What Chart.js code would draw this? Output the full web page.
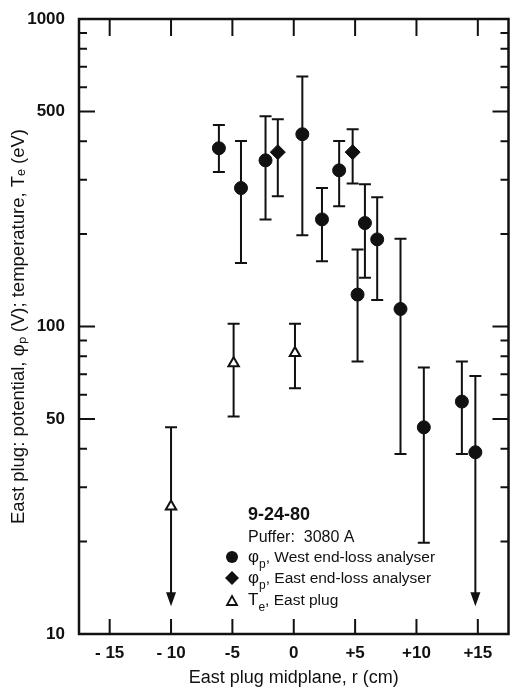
<!DOCTYPE html>
<html>
<head>
<meta charset="utf-8">
<script src="https://cdn.jsdelivr.net/npm/chart.js@4"></script>
<style>
  body { margin: 0; background: #fff; }
  #wrap { width: 517px; height: 689px; }
</style>
</head>
<body>
<div id="wrap"><canvas id="chart" width="517" height="689"></canvas></div>
<script>
// radial position r (cm) and values
const westR = [-6.1, -4.3, -2.3, 0.7, 2.3, 3.7, 5.2, 5.8, 6.8, 8.7, 10.6, 13.7, 14.8];
const westPhi = [380, 282, 347, 422, 223, 322, 127, 217, 192, 114, 47, 57, 39];
const westHi = [452, 401, 483, 650, 282, 401, 178, 290, 263, 193, 73.5, 77, 69];
const westLo = [318, 161, 223, 198, 163, 246, 77, 144, 122, 38.5, 19.8, 38.5, 12.3];
const westArrow = [false, false, false, false, false, false, false, false, false, false, false, false, true];

const eastR = [-1.3, 4.8];
const eastPhi = [369, 369];
const eastHi = [472, 438];
const eastLo = [265, 292];
const eastArrow = [false, false];

const teR = [-10, -4.9, 0.1];
const teVal = [26, 76, 82];
const teHi = [47, 102, 102];
const teLo = [12.3, 51, 63];
const teArrow = [true, false, false];

const xTicks = [-15, -10, -5, 0, 5, 10, 15];
const yLabelled = [10, 50, 100, 500, 1000];
const yTicks = [10, 20, 30, 40, 50, 60, 70, 80, 90, 100, 200, 300, 400, 500, 600, 700, 800, 900, 1000];

const ink = '#111';
const fontFam = '"Liberation Sans", Arial, sans-serif';

function pts(xs, ys) {
    return xs.map((x, i) => ({ x: x, y: ys[i] }));
}

const errorSets = [
    { xs: westR, hi: westHi, lo: westLo, arrow: westArrow },
    { xs: eastR, hi: eastHi, lo: eastLo, arrow: eastArrow },
    { xs: teR, hi: teHi, lo: teLo, arrow: teArrow }
];

function drawArrowHead(ctx, x, y) {
    ctx.beginPath();
    ctx.moveTo(x, y);
    ctx.lineTo(x - 5, y - 14);
    ctx.lineTo(x + 5, y - 14);
    ctx.closePath();
    ctx.fill();
}

const framePlugin = {
    id: 'frame',
    beforeDatasetsDraw(chart) {
        const ctx = chart.ctx;
        const xs = chart.scales.x, ys = chart.scales.y;
        ctx.save();
        ctx.strokeStyle = ink;
        ctx.fillStyle = ink;
        ctx.lineWidth = 2;
        errorSets.forEach(set => {
            set.xs.forEach((r, i) => {
                const px = xs.getPixelForValue(r);
                const top = ys.getPixelForValue(set.hi[i]);
                const bot = ys.getPixelForValue(set.lo[i]);
                ctx.beginPath();
                ctx.moveTo(px, top);
                ctx.lineTo(px, set.arrow[i] ? bot - 10 : bot);
                ctx.moveTo(px - 6, top);
                ctx.lineTo(px + 6, top);
                if (!set.arrow[i]) {
                    ctx.moveTo(px - 6, bot);
                    ctx.lineTo(px + 6, bot);
                }
                ctx.stroke();
                if (set.arrow[i]) drawArrowHead(ctx, px, bot);
            });
        });
        ctx.restore();
    },
    afterDraw(chart) {
        const ctx = chart.ctx;
        const a = chart.chartArea;
        const xs = chart.scales.x, ys = chart.scales.y;
        ctx.save();
        ctx.strokeStyle = ink;
        ctx.lineWidth = 2.5;
        ctx.strokeRect(a.left, a.top, a.right - a.left, a.bottom - a.top);

        // inward tick marks on all four sides
        ctx.lineWidth = 2;
        ctx.beginPath();
        yTicks.forEach(v => {
            const py = ys.getPixelForValue(v);
            const len = yLabelled.includes(v) ? 16 : 8;
            ctx.moveTo(a.left, py); ctx.lineTo(a.left + len, py);
            ctx.moveTo(a.right, py); ctx.lineTo(a.right - len, py);
        });
        xTicks.forEach(v => {
            const px = xs.getPixelForValue(v);
            ctx.moveTo(px, a.bottom); ctx.lineTo(px, a.bottom - 15);
            ctx.moveTo(px, a.top); ctx.lineTo(px, a.top + 17);
        });
        ctx.stroke();

        // legend block inside the plot
        const lx = a.left + 153, tx = a.left + 169;
        ctx.fillStyle = ink;
        ctx.textBaseline = 'alphabetic';
        ctx.font = 'bold 18px ' + fontFam;
        ctx.fillText('9-24-80', tx, a.top + 501);
        ctx.font = '16px ' + fontFam;
        ctx.fillText('Puffer:  3080 A', tx, a.top + 523);

        const rows = [
            { y: a.top + 543, sym: 'φ', sub: 'p', text: ', West end-loss analyser', mark: 'circle' },
            { y: a.top + 564, sym: 'φ', sub: 'p', text: ', East end-loss analyser', mark: 'diamond' },
            { y: a.top + 586, sym: 'T', sub: 'e', text: ', East plug', mark: 'triangle' }
        ];
        rows.forEach(row => {
            const my = row.y - 5;
            ctx.fillStyle = ink;
            ctx.beginPath();
            if (row.mark === 'circle') {
                ctx.arc(lx, my, 6, 0, Math.PI * 2);
                ctx.fill();
            } else if (row.mark === 'diamond') {
                ctx.moveTo(lx, my - 7); ctx.lineTo(lx + 7, my);
                ctx.lineTo(lx, my + 7); ctx.lineTo(lx - 7, my);
                ctx.closePath();
                ctx.fill();
            } else {
                ctx.moveTo(lx, my - 4); ctx.lineTo(lx + 5, my + 5);
                ctx.lineTo(lx - 5, my + 5);
                ctx.closePath();
                ctx.lineWidth = 1.8;
                ctx.stroke();
            }
            ctx.font = '17px ' + fontFam;
            ctx.fillText(row.sym, tx, row.y);
            let w = ctx.measureText(row.sym).width;
            ctx.font = '12px ' + fontFam;
            ctx.fillText(row.sub, tx + w, row.y + 6);
            w += ctx.measureText(row.sub).width;
            ctx.font = '15.5px ' + fontFam;
            ctx.fillText(row.text, tx + w, row.y);
        });
        ctx.restore();
    }
};

new Chart(document.getElementById('chart'), {
    type: 'scatter',
    data: {
        datasets: [
            {
                label: 'φp, West end-loss analyser',
                data: pts(westR, westPhi),
                pointStyle: 'circle',
                pointRadius: 6.5,
                backgroundColor: ink,
                borderColor: ink
            },
            {
                label: 'φp, East end-loss analyser',
                data: pts(eastR, eastPhi),
                pointStyle: 'rectRot',
                pointRadius: 7.5,
                backgroundColor: ink,
                borderColor: ink
            },
            {
                label: 'Te, East plug',
                data: pts(teR, teVal),
                pointStyle: 'triangle',
                pointRadius: 6,
                borderWidth: 2,
                backgroundColor: '#fff',
                borderColor: ink
            }
        ]
    },
    options: {
        responsive: false,
        animation: false,
        layout: { padding: { top: 19, right: 4 } },
        plugins: {
            legend: { display: false },
            tooltip: { enabled: false }
        },
        scales: {
            x: {
                type: 'linear',
                min: -17.5,
                max: 17.5,
                afterBuildTicks: scale => { scale.ticks = xTicks.map(v => ({ value: v })); },
                afterFit: scale => {
                    scale.height = 55;
                    scale.paddingLeft = 0;
                    scale.paddingRight = 0;
                },
                grid: { display: false },
                border: { display: false },
                ticks: {
                    color: ink,
                    padding: 1,
                    font: { family: fontFam, size: 17, weight: 'bold' },
                    callback: v => v > 0 ? '+' + v : (v < 0 ? (v <= -10 ? '- ' : '-') + Math.abs(v) : '0')
                },
                title: {
                    display: true,
                    text: 'East plug midplane, r (cm)',
                    color: ink,
                    padding: { top: 2, bottom: 0 },
                    font: { family: fontFam, size: 18 }
                }
            },
            y: {
                type: 'logarithmic',
                min: 10,
                max: 1000,
                afterBuildTicks: scale => { scale.ticks = yTicks.map(v => ({ value: v })); },
                afterFit: scale => {
                    scale.width = 79;
                    scale.paddingTop = 0;
                    scale.paddingBottom = 0;
                },
                grid: { display: false },
                border: { display: false },
                ticks: {
                    color: ink,
                    padding: 6,
                    autoSkip: false,
                    font: { family: fontFam, size: 17, weight: 'bold' },
                    callback: v => yLabelled.includes(v) ? String(v) : ''
                },
                title: {
                    display: true,
                    text: 'East plug: potential, \u03c6\u209a (V); temperature, T\u2091 (eV)',
                    color: ink,
                    padding: { top: 8, bottom: 0 },
                    font: { family: fontFam, size: 18.5 }
                }
            }
        }
    },
    plugins: [framePlugin]
});
</script>
</body>
</html>
